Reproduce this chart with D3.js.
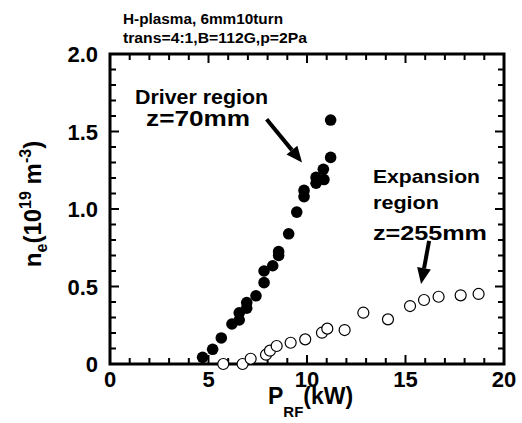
<!DOCTYPE html>
<html>
<head>
<meta charset="utf-8">
<script src="https://d3js.org/d3.v7.min.js"></script>
<style>
  body { margin: 0; background: #fff; }
  svg text { font-family: "Liberation Sans", Arial, sans-serif; font-weight: bold; fill: #000; }
</style>
</head>
<body>
<div id="chart"></div>
<script>
// values
const driverP  = [4.70, 5.21, 5.65, 6.19, 6.56, 6.56, 6.94, 6.94, 7.41, 7.82, 7.82, 8.26,
                  8.56, 8.56, 9.07, 9.48, 9.85, 9.85, 10.46, 10.46, 10.86, 10.83, 11.2, 11.2];
const driverNe = [0.043, 0.095, 0.168, 0.258, 0.284, 0.33, 0.36, 0.396, 0.44, 0.525, 0.60, 0.634,
                  0.70, 0.725, 0.84, 0.98, 1.08, 1.12, 1.166, 1.204, 1.19, 1.256, 1.333, 1.574];

const expP  = [5.75, 6.73, 7.14, 7.92, 8.12, 8.46, 9.17, 9.91, 10.76, 11.03, 11.91, 12.86,
               14.11, 15.23, 15.94, 16.68, 17.80, 18.71];
const expNe = [0.0, 0.0, 0.034, 0.06, 0.086, 0.116, 0.137, 0.159, 0.202, 0.228, 0.219, 0.331,
               0.288, 0.374, 0.413, 0.434, 0.443, 0.452];

const xTicks = [0, 5, 10, 15, 20];
const xTickLabels = ["0", "5", "10", "15", "20"];
const yTicks = [0, 0.5, 1.0, 1.5, 2.0];
const yTickLabels = ["0", "0.5", "1.0", "1.5", "2.0"];

const titleLines = ["H-plasma, 6mm10turn", "trans=4:1,B=112G,p=2Pa"];
const titleLengths = [160, 184];

const margin = {top: 54, right: 18, bottom: 59, left: 110};
const W = 522, H = 423;
const width = W - margin.left - margin.right;
const height = H - margin.top - margin.bottom;

const svg = d3.select("#chart").append("svg")
    .attr("width", W)
    .attr("height", H);

const g = svg.append("g")
    .attr("transform", "translate(" + margin.left + "," + margin.top + ")");

const x = d3.scaleLinear().domain([0, 20]).range([0, width]);
const y = d3.scaleLinear().domain([0, 2]).range([height, 0]);

// frame
g.append("rect")
    .attr("x", 0).attr("y", 0)
    .attr("width", width).attr("height", height)
    .attr("fill", "none")
    .attr("stroke", "#000")
    .attr("stroke-width", 3);

// inward ticks on all four sides, minor every 1 kW / 0.1
const xAll = d3.range(0, 21, 1).map(d => ({v: d, len: d % 5 === 0 ? 9 : 6}));
const yAll = d3.range(0, 21, 1).map(d => ({v: d / 10, len: d % 5 === 0 ? 9 : 6}));

const tickG = g.append("g")
    .attr("stroke", "#000")
    .attr("stroke-width", 2);

[0, height].forEach(function(base) {
  const dir = base === 0 ? 1 : -1;
  tickG.selectAll(null)
    .data(xAll)
    .enter().append("line")
      .attr("x1", d => x(d.v)).attr("x2", d => x(d.v))
      .attr("y1", base).attr("y2", d => base + dir * d.len);
});

[0, width].forEach(function(base) {
  const dir = base === 0 ? 1 : -1;
  tickG.selectAll(null)
    .data(yAll)
    .enter().append("line")
      .attr("y1", d => y(d.v)).attr("y2", d => y(d.v))
      .attr("x1", base).attr("x2", d => base + dir * d.len);
});

// tick labels
g.selectAll(".xlab")
  .data(xTicks)
  .enter().append("text")
    .attr("class", "xlab")
    .attr("x", d => x(d))
    .attr("y", height + 23)
    .attr("text-anchor", "middle")
    .style("font-size", "22px")
    .text((d, i) => xTickLabels[i]);

g.selectAll(".ylab")
  .data(yTicks)
  .enter().append("text")
    .attr("class", "ylab")
    .attr("x", -12)
    .attr("y", d => y(d) + 8)
    .attr("text-anchor", "end")
    .style("font-size", "22px")
    .text((d, i) => yTickLabels[i]);

// axis titles
const xt = svg.append("text")
    .attr("x", 268)
    .attr("y", 404)
    .style("font-size", "23px");
xt.append("tspan").text("P");
xt.append("tspan").attr("dy", 13).style("font-size", "15px").text("RF");
xt.append("tspan").attr("dy", -13).text("(kW)");

const yt = svg.append("text")
    .attr("transform", "translate(41,204) rotate(-90)")
    .attr("text-anchor", "middle")
    .style("font-size", "24px");
yt.append("tspan").text("n");
yt.append("tspan").attr("dy", 6).style("font-size", "16px").text("e");
yt.append("tspan").attr("dy", -6).text("(10");
yt.append("tspan").attr("dy", -10).style("font-size", "16px").text("19");
yt.append("tspan").attr("dy", 10).text(" m");
yt.append("tspan").attr("dy", -10).style("font-size", "16px").text("-3");
yt.append("tspan").attr("dy", 10).text(")");

// title
svg.selectAll(".title")
  .data(titleLines)
  .enter().append("text")
    .attr("class", "title")
    .attr("x", 123)
    .attr("y", (d, i) => 24 + i * 19)
    .attr("textLength", (d, i) => titleLengths[i])
    .attr("lengthAdjust", "spacingAndGlyphs")
    .style("font-size", "14px")
    .text(d => d);

// data
const driver = driverP.map((p, i) => ({p: p, ne: driverNe[i]}));
const expansion = expP.map((p, i) => ({p: p, ne: expNe[i]}));

g.selectAll(".open")
  .data(expansion)
  .enter().append("circle")
    .attr("class", "open")
    .attr("cx", d => x(d.p))
    .attr("cy", d => y(d.ne))
    .attr("r", 5.5)
    .attr("fill", "#fff")
    .attr("stroke", "#000")
    .attr("stroke-width", 1.2);

g.selectAll(".filled")
  .data(driver)
  .enter().append("circle")
    .attr("class", "filled")
    .attr("cx", d => x(d.p))
    .attr("cy", d => y(d.ne))
    .attr("r", 5.8)
    .attr("fill", "#000");

// annotations (placed in data units)
function arrow(x0, y0, x1, y1) {
  const ax = x(x0), ay = y(y0), bx = x(x1), by = y(y1);
  const ang = Math.atan2(by - ay, bx - ax);
  const len = 16, hw = 7;
  const cx = bx - len * Math.cos(ang), cy = by - len * Math.sin(ang);
  g.append("line")
      .attr("x1", ax).attr("y1", ay)
      .attr("x2", cx).attr("y2", cy)
      .attr("stroke", "#000")
      .attr("stroke-width", 4);
  const nx = -Math.sin(ang) * hw, ny = Math.cos(ang) * hw;
  g.append("path")
      .attr("d", "M" + bx + "," + by + "L" + (cx + nx) + "," + (cy + ny) + "L" + (cx - nx) + "," + (cy - ny) + "Z")
      .attr("fill", "#000");
}

arrow(7.95, 1.579, 9.75, 1.30);
arrow(16.2, 0.794, 15.79, 0.516);

function label(px, ne, txt, size, len) {
  g.append("text")
      .attr("x", x(px))
      .attr("y", y(ne))
      .attr("textLength", len)
      .attr("lengthAdjust", "spacingAndGlyphs")
      .style("font-size", size + "px")
      .text(txt);
}

label(1.27, 1.677, "Driver region", 20, 133);
label(1.83, 1.535, "z=70mm", 22, 104);
label(13.35, 1.165, "Expansion", 19, 107);
label(13.35, 1.00, "region", 19, 66);
label(13.35, 0.80, "z=255mm", 21, 114);
</script>
</body>
</html>
